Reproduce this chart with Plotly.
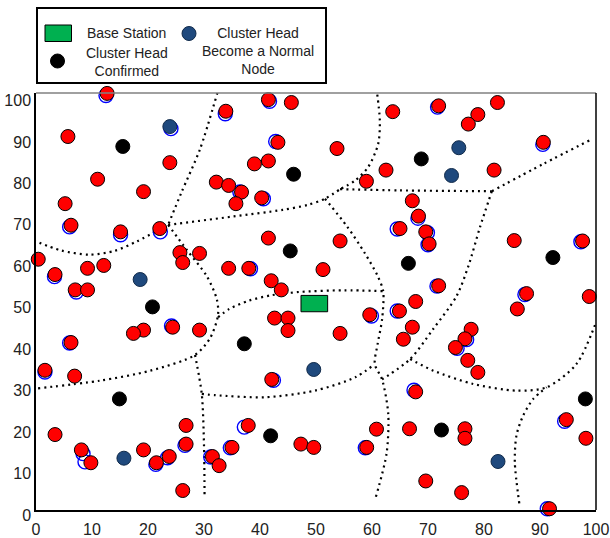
import plotly.graph_objects as go

# ---------------- data ----------------
ticks = [0, 10, 20, 30, 40, 50, 60, 70, 80, 90, 100]
tick_labels = [str(t) for t in ticks]

base_x = [49.7]
base_y = [49.8]

normal_x = [12.7, 5.7, 23.9, 11.0, 19.2, 5.2, 6.25, 15.1, 22.1, 0.4, 3.4, 9.2, 12.1, 7.0, 9.2,
            25.7, 26.2, 29.2, 32.2, 41.5, 45.6, 33.9, 63.7, 43.2, 53.75, 39.0, 41.5, 62.5, 59.0,
            34.4, 36.7, 35.7, 40.3, 41.5, 54.3, 34.4, 38.0, 51.25, 42.0, 43.8, 65.0, 71.9, 82.4,
            78.9, 77.2, 90.6, 81.8, 67.2, 68.3, 69.6, 70.2, 85.4, 97.6, 71.9, 87.6, 98.8, 67.8,
            19.2, 17.4, 24.4, 29.2, 6.25, 1.6, 6.9, 3.4, 8.1, 9.8, 19.2, 21.5, 23.8, 26.8, 26.8,
            26.2, 31.5, 32.7, 42.6, 45.0, 45.0, 54.3, 59.6, 64.9, 42.1, 37.9, 35.0, 47.3, 49.6,
            60.8, 59.05, 65.6, 85.95, 67.2, 77.7, 76.6, 74.9, 77.1, 78.9, 67.8, 66.7, 76.6, 76.6,
            94.7, 98.2, 69.6, 76.0, 91.7]
normal_y = [100.5, 90.1, 83.8, 79.8, 76.8, 73.9, 68.7, 67.1, 67.9, 60.5, 56.8, 58.3, 59.0, 53.1, 53.1,
            62.1, 59.7, 61.9, 79.1, 99.0, 98.3, 96.2, 96.1, 88.7, 87.2, 83.5, 84.2, 82.0, 79.3,
            78.3, 76.7, 73.9, 75.3, 65.6, 64.9, 58.3, 58.3, 58.0, 55.3, 53.1, 67.9, 97.5, 98.3,
            95.4, 93.1, 88.7, 82.0, 74.6, 70.9, 67.1, 64.2, 65.0, 64.9, 54.1, 52.2, 51.5, 50.3,
            43.4, 42.6, 44.1, 43.4, 40.4, 33.7, 32.3, 18.2, 14.5, 11.4, 14.5, 11.4, 12.9, 20.4, 15.9,
            4.7, 12.9, 10.7, 46.3, 46.3, 43.3, 42.6, 47.1, 48.0, 31.5, 20.4, 15.1, 15.9, 15.1,
            19.5, 15.1, 41.2, 48.5, 44.1, 43.6, 41.3, 39.2, 36.1, 33.2, 28.5, 19.6, 19.6, 17.3,
            21.8, 17.3, 7.0, 4.2, 0.3]

# original node positions (blue hollow circles peeking out behind nodes)
orig_x = [12.5, 24.1, 6.0, 15.1, 22.2, 3.3, 7.2, 41.7, 33.8, 42.8, 36.4, 40.6, 38.3, 64.5, 71.7,
          90.5, 68.2, 69.9, 70.0, 97.3, 71.6, 87.3, 24.2, 6.0, 1.6, 8.4, 8.75, 21.4, 23.5, 26.6,
          31.2, 37.2, 34.7, 42.4, 59.9, 64.5, 58.8, 67.5, 76.9, 75.2, 94.4, 91.3]
orig_y = [100.0, 92.0, 68.3, 66.4, 67.1, 56.3, 52.6, 98.6, 95.6, 88.9, 76.7, 75.1, 58.2, 67.8, 97.2,
          88.2, 70.4, 66.9, 64.0, 64.7, 54.0, 52.0, 44.4, 40.3, 33.3, 13.6, 11.6, 11.0, 12.6, 15.6,
          12.8, 20.0, 15.0, 31.3, 46.8, 48.0, 15.0, 28.9, 41.1, 39.0, 21.4, 0.3]

confirmed_x = [15.5, 46.0, 68.8, 45.4, 66.5, 92.3, 20.8, 37.2, 14.9, 41.9, 72.4, 98.1]
confirmed_y = [87.7, 81.0, 84.7, 62.5, 59.5, 60.9, 49.0, 40.1, 26.8, 17.9, 19.3, 26.8]

demoted_x = [23.9, 75.5, 74.2, 18.6, 49.6, 15.7, 82.5]
demoted_y = [92.5, 87.4, 80.7, 55.6, 33.9, 12.5, 11.7]

# cluster boundary polylines (x list, y list)
b1_x = [32.4, 29.3, 26.0, 23.6];                 b1_y = [100.7, 87.1, 76.7, 68.8]
b2_x = [-0.4, 4.5, 9.5, 14.0, 18.0, 23.6];       b2_y = [65.0, 62.6, 61.6, 62.5, 64.8, 68.8]
b3_x = [23.6, 35.2, 44.0, 48.5, 51.6, 54.3];     b3_y = [68.8, 70.8, 72.4, 73.6, 75.1, 77.4]
b4_x = [60.8, 61.4, 61.1, 59.3, 57.0, 54.3];     b4_y = [101.7, 93.9, 88.3, 82.7, 79.5, 77.4]
b5_x = [54.3, 65.0, 81.4];                       b5_y = [77.4, 77.1, 76.9]
b6_x = [81.4, 90.6, 99.2];                       b6_y = [76.9, 83.5, 89.4]
b7_x = [81.4, 79.3, 77.2, 75.1, 70.9, 66.8, 61.8]
b7_y = [76.9, 68.3, 58.8, 51.6, 43.6, 36.4, 31.5]
b8_x = [51.6, 55.5, 58.7, 61.0, 62.0, 61.8, 61.0, 60.5, 61.8, 62.9, 62.6, 60.7]
b8_y = [75.1, 68.5, 62.0, 56.5, 52.8, 46.0, 40.0, 35.2, 31.5, 23.2, 13.6, 3.2]
b9_x = [23.6, 26.9, 30.5, 32.3, 32.5, 31.1, 28.4, 20.4, 11.4, 0.0]
b9_y = [68.8, 62.8, 56.4, 50.8, 47.0, 41.5, 37.4, 33.6, 31.2, 29.3]
b10_x = [28.4, 29.6, 30.0, 30.1];                b10_y = [37.4, 28.0, 15.6, 3.2]
b11_x = [29.6, 32.0, 40.9, 49.8, 57.0, 60.5];    b11_y = [28.0, 27.7, 27.2, 28.8, 32.0, 35.2]
b12_x = [32.5, 34.5, 38.0, 42.0, 47.0, 55.0, 62.0]
b12_y = [46.5, 48.5, 50.5, 51.8, 52.6, 53.0, 52.8]
b13_x = [66.8, 71.0, 78.1, 85.8, 91.2, 96.5, 100.1]
b13_y = [36.4, 33.6, 30.4, 28.8, 29.6, 35.2, 45.6]
b14_x = [86.3, 85.5, 85.8, 87.0, 88.8, 91.2];    b14_y = [1.6, 11.6, 18.0, 22.8, 26.8, 29.6]

boundaries = [(b1_x, b1_y), (b2_x, b2_y), (b3_x, b3_y), (b4_x, b4_y), (b5_x, b5_y),
              (b6_x, b6_y), (b7_x, b7_y), (b8_x, b8_y), (b9_x, b9_y), (b10_x, b10_y),
              (b11_x, b11_y), (b12_x, b12_y), (b13_x, b13_y), (b14_x, b14_y)]

# ---------------- styles ----------------
FONT = "Arial, Liberation Sans, sans-serif"
RED = "#FF0000"
NAVY = "#1F497D"
GREEN = "#00B050"
MS = 14

fig = go.Figure()

for bx, by in boundaries:
    fig.add_trace(go.Scatter(x=bx, y=by, mode="lines", hoverinfo="skip",
                             line=dict(color="black", width=2.2, dash="2px,4px", shape="spline",
                                       smoothing=0.8)))

fig.add_trace(go.Scatter(x=orig_x, y=orig_y, mode="markers", cliponaxis=False,
                         marker=dict(symbol="circle-open", size=MS, color="#0000FF",
                                     line=dict(width=1.4, color="#0000FF"))))
fig.add_trace(go.Scatter(x=normal_x, y=normal_y, mode="markers", cliponaxis=False,
                         marker=dict(size=MS, color=RED, line=dict(width=1, color="black"))))
fig.add_trace(go.Scatter(x=demoted_x, y=demoted_y, mode="markers", cliponaxis=False,
                         marker=dict(size=MS, color=NAVY, line=dict(width=1, color="#102a4a"))))
fig.add_trace(go.Scatter(x=confirmed_x, y=confirmed_y, mode="markers", cliponaxis=False,
                         marker=dict(size=MS, color="black", line=dict(width=1, color="black"))))

# base station rectangle (centered on its data position)
BS_HW, BS_HH = 2.38, 1.97
for bx, by in zip(base_x, base_y):
    fig.add_shape(type="rect", xref="x", yref="y", x0=bx - BS_HW, x1=bx + BS_HW,
                  y0=by - BS_HH, y1=by + BS_HH, fillcolor=GREEN,
                  line=dict(color="black", width=1), layer="above")

# frame: top (gray) and right (black) borders
fig.add_shape(type="line", xref="paper", yref="paper", x0=0, x1=1, y0=1, y1=1,
              line=dict(color="#808080", width=1.5))
fig.add_shape(type="line", xref="paper", yref="paper", x0=1, x1=1, y0=0, y1=1,
              line=dict(color="black", width=1.5))

# ---------------- legend (manual) ----------------
W, H = 560.0, 417.0
L, T, B = 36.0, 93.0, 510.0


def px(xp):
    return (xp - L) / W


def py(yp):
    return (B - yp) / H


fig.add_shape(type="rect", xref="paper", yref="paper", x0=px(37), x1=px(326), y0=py(83), y1=py(8),
              line=dict(color="black", width=2), fillcolor="white")
fig.add_shape(type="rect", xref="paper", yref="paper", x0=px(45), x1=px(71.5), y0=py(41.5), y1=py(25),
              line=dict(color="black", width=1), fillcolor=GREEN)
fig.add_shape(type="circle", xref="paper", yref="paper", x0=px(50.5), x1=px(64.5), y0=py(68), y1=py(54),
              line=dict(color="black", width=1), fillcolor="black")
fig.add_shape(type="circle", xref="paper", yref="paper", x0=px(182), x1=px(196), y0=py(40.5), y1=py(26.5),
              line=dict(color="#102a4a", width=1), fillcolor=NAVY)

leg_font = dict(family=FONT, size=14, color="#222222")
fig.add_annotation(xref="paper", yref="paper", x=px(85), y=py(32.7), text="Base Station",
                   showarrow=False, xanchor="left", yanchor="middle", font=leg_font)
fig.add_annotation(xref="paper", yref="paper", x=px(127), y=py(62.3), text="Cluster Head<br>Confirmed",
                   showarrow=False, xanchor="center", yanchor="middle", align="center", font=leg_font)
fig.add_annotation(xref="paper", yref="paper", x=px(257.5), y=py(51.5), text="Cluster Head<br>Become a Normal<br>Node",
                   showarrow=False, xanchor="center", yanchor="middle", align="center", font=leg_font)

axis_common = dict(tickmode="array", tickvals=ticks, ticktext=tick_labels, automargin=False,
                   showgrid=False, zeroline=False, showline=True, linecolor="black", linewidth=1.5,
                   ticks="", tickfont=dict(family=FONT, size=16, color="#222222"), fixedrange=True)

fig.update_layout(
    width=610, height=538,
    margin=dict(l=36, r=14, t=93, b=28),
    paper_bgcolor="white", plot_bgcolor="white",
    showlegend=False,
    xaxis=dict(range=[0, 100], ticklabelstandoff=4, **axis_common),
    yaxis=dict(range=[0, 100.6], ticklabelshift=5, **axis_common),
)

fig.write_html("out.html", config={"displayModeBar": False},
               post_script="document.body.style.margin='0';document.body.style.padding='0';"
                           "document.body.style.overflow='hidden';")
